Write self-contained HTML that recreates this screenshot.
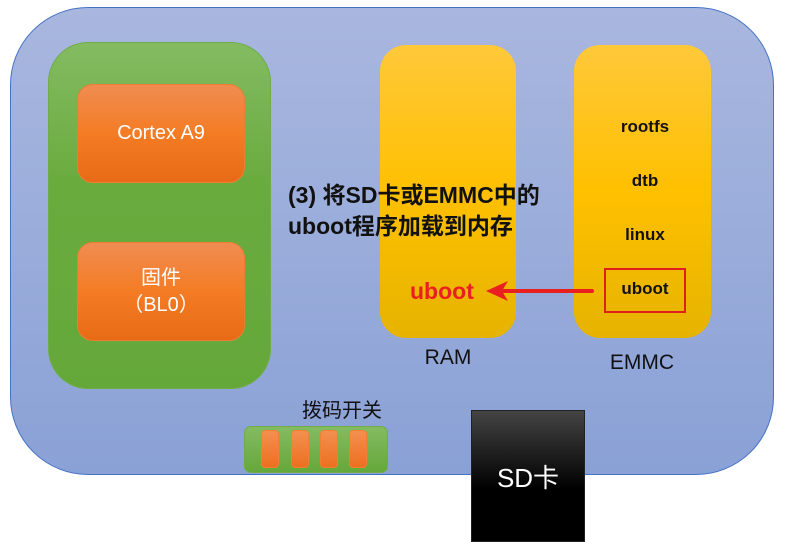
<!DOCTYPE html>
<html><head><meta charset="utf-8"><style>
body{margin:0;width:785px;height:542px;background:#fff;overflow:hidden;position:relative;font-family:"Liberation Sans","Noto Sans CJK SC",sans-serif}
div{position:absolute;box-sizing:border-box}
.t{text-align:center}
.or{background:linear-gradient(#f08c52,#f47c24 50%,#e86a16);border:1px solid #ed7d31;color:#fff;border-radius:16px;display:flex;align-items:center;justify-content:center;text-align:center;font-size:20px;line-height:27px}
.ye{background:linear-gradient(#ffc83a,#ffc000 50%,#e6b300);border-radius:26px}
.k{background:linear-gradient(#f39050,#ec7020);border:1px solid #f08030;border-radius:4px;width:18px;height:38px;top:430px}
.lb{font-weight:bold;font-size:17px;color:#111;width:136px;text-align:center}
</style></head><body>
<div style="left:10px;top:7px;width:764px;height:468px;border-radius:78px;background:linear-gradient(#a9b7df,#8aa1d6);border:1px solid #4472c4"></div>
<div style="left:48px;top:42px;width:223px;height:347px;border-radius:40px;background:linear-gradient(#84bb62,#6aab3e 40%,#65a83a);border:1px solid #70ad47"></div>
<div class="or" style="left:77px;top:84px;width:168px;height:99px">Cortex A9</div>
<div class="or" style="left:77px;top:242px;width:168px;height:99px">固件<br>（BL0）</div>
<div class="ye" style="left:380px;top:45px;width:136px;height:293px"></div>
<div class="ye" style="left:574px;top:45px;width:137px;height:293px"></div>
<div class="lb" style="left:577px;top:117px">rootfs</div>
<div class="lb" style="left:577px;top:171px">dtb</div>
<div class="lb" style="left:577px;top:225px">linux</div>
<div style="left:604px;top:268px;width:82px;height:45px;border:2px solid #e02020"></div>
<div class="lb" style="left:577px;top:279px">uboot</div>
<div style="left:410px;top:278px;font-weight:bold;font-size:23px;color:#ea2020">uboot</div>
<svg style="position:absolute;left:0;top:0" width="785" height="542"><line x1="592" y1="291" x2="500" y2="291" stroke="#ea2020" stroke-width="4" stroke-linecap="round"/><path d="M486 291 L508 281 L502 291 L508 301 Z" fill="#ea2020"/></svg>
<div style="left:288px;top:180px;font-weight:bold;font-size:23px;line-height:31px;color:#111">(3) 将SD卡或EMMC中的<br>uboot程序加载到内存</div>
<div class="t" style="left:380px;top:346px;width:136px;font-size:21px;color:#111">RAM</div>
<div class="t" style="left:574px;top:351px;width:136px;font-size:21px;color:#111">EMMC</div>
<div style="left:302px;top:394px;font-size:20px;color:#111">拨码开关</div>
<div style="left:244px;top:426px;width:144px;height:47px;border-radius:7px;background:linear-gradient(#84bb62,#65a83a);border:1px solid #70ad47"></div>
<div class="k" style="left:261px"></div><div class="k" style="left:291px"></div><div class="k" style="left:320px"></div><div class="k" style="left:349px"></div>
<div style="left:471px;top:410px;width:114px;height:132px;background:linear-gradient(#444,#000 60%);border:1px solid #222;color:#fff;font-size:26px;display:flex;align-items:center;justify-content:center">SD卡</div>
</body></html>
